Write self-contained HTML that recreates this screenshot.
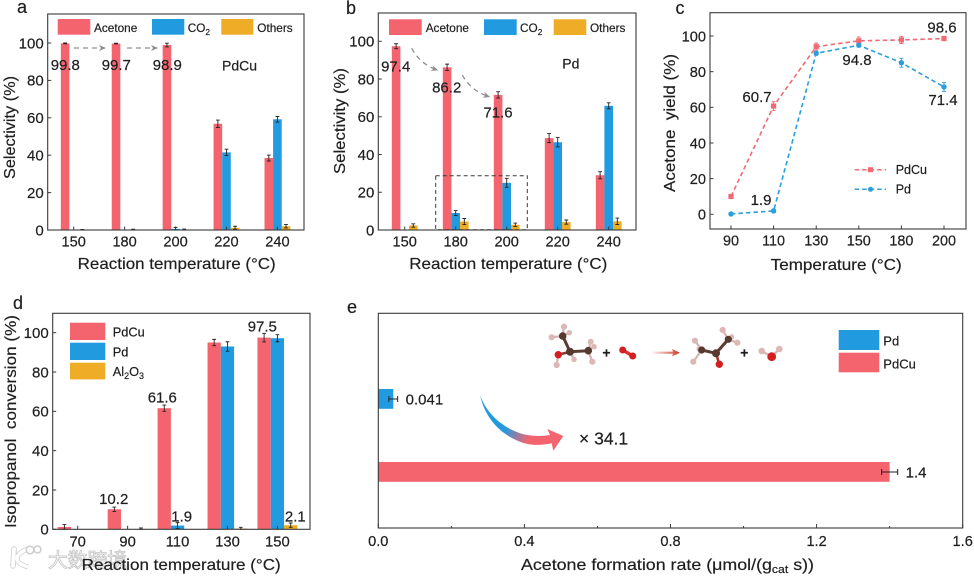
<!DOCTYPE html>
<html lang="en">
<head>
<meta charset="utf-8">
<title>Catalyst performance of PdCu and Pd</title>
<style>
html,body{margin:0;padding:0;background:#fff;}
body{width:974px;height:576px;overflow:hidden;}
svg{display:block;font-family:"Liberation Sans","Noto Sans CJK SC",sans-serif;fill:#1f1f1f;filter:blur(0.35px);}
text:not(.wm){stroke:#1f1f1f;stroke-width:0.2px;}
</style>
</head>
<body>
<svg id="figure" width="974" height="576" viewBox="0 0 974 576" xmlns="http://www.w3.org/2000/svg">
<defs>
<marker id="grayHead" viewBox="0 0 8 8" refX="6" refY="4" markerWidth="8" markerHeight="8" orient="auto" markerUnits="userSpaceOnUse"><path d="M0 1 L7 4 L0 7 L2 4 Z" fill="#8f8f8f"/></marker>
<linearGradient id="curveGrad" gradientUnits="userSpaceOnUse" x1="505" y1="428" x2="528" y2="440"><stop offset="0" stop-color="#229ae0"/><stop offset="1" stop-color="#f4646f"/></linearGradient>
<linearGradient id="rxnGrad" x1="0" x2="1" y1="0" y2="0"><stop offset="0" stop-color="#d9412f" stop-opacity="0.05"/><stop offset="1" stop-color="#d0341f"/></linearGradient>
</defs>

<rect width="974" height="576" fill="#fff"/>

<!-- Watermark -->
<g>
<path d="M14 549 L13 566" fill="none" stroke="#cfcfcf" stroke-width="5.5" stroke-linecap="round"/>
<path d="M28 549 Q17 553 17 559 Q18 564 28 567" fill="none" stroke="#cfcfcf" stroke-width="5"/>
<path d="M14 549 L13 566" fill="none" stroke="#fff" stroke-width="3.8" stroke-linecap="round"/>
<path d="M28 549 Q17 553 17 559 Q18 564 28 567" fill="none" stroke="#fff" stroke-width="3.4"/>
<circle cx="30" cy="550" r="3.8" fill="#fff" stroke="#cfcfcf" stroke-width="1.6"/>
<circle cx="37.5" cy="549.5" r="3.4" fill="#fff" stroke="#cfcfcf" stroke-width="1.6"/>
<text class="wm" x="48" y="567" font-size="20" fill="#fff" stroke="#c4c4c4" stroke-width="0.8" font-family="'Noto Sans CJK SC',sans-serif" textLength="79">大数跨境</text>
</g>

<g id="panelA"></g>
<g id="panelB"></g>
<g id="panelC"></g>
<g id="panelD"></g>
<g id="panelE"></g>

<!-- Panel letters -->
<g font-size="18">
<text x="17" y="13">a</text>
<text x="346" y="14">b</text>
<text x="675.5" y="14">c</text>
<text x="13" y="309">d</text>
<text x="347" y="313">e</text>
</g>

<!-- Axis titles -->
<g font-size="16">
<text x="77.7" y="269" textLength="198" lengthAdjust="spacingAndGlyphs">Reaction temperature (°C)</text>
<text x="409.3" y="269" textLength="198" lengthAdjust="spacingAndGlyphs">Reaction temperature (°C)</text>
<text x="770.7" y="270" textLength="131" lengthAdjust="spacingAndGlyphs">Temperature (°C)</text>
<text x="81.7" y="570" textLength="199" lengthAdjust="spacingAndGlyphs">Reaction temperature (°C)</text>
<text x="521" y="570" textLength="293" lengthAdjust="spacingAndGlyphs">Acetone formation rate (μmol/(g<tspan font-size="11" dy="3">cat</tspan><tspan dy="-3"> s))</tspan></text>
<text transform="translate(15,179) rotate(-90)" textLength="103" lengthAdjust="spacingAndGlyphs">Selectivity (%)</text>
<text transform="translate(345,174) rotate(-90)" textLength="106" lengthAdjust="spacingAndGlyphs">Selectivity (%)</text>
<text transform="translate(675,192) rotate(-90)" textLength="138" lengthAdjust="spacingAndGlyphs" xml:space="preserve">Acetone  yield (%)</text>
<text transform="translate(16,528) rotate(-90)" textLength="213" lengthAdjust="spacingAndGlyphs" xml:space="preserve">Isopropanol  conversion (%)</text>
</g>

<!-- Panel annotations -->
<text x="222" y="70.5" font-size="14">PdCu</text>
<text x="562.3" y="68.5" font-size="14">Pd</text>
<g stroke="#8f8f8f" stroke-width="1.3" fill="none" stroke-dasharray="5 4">
<path d="M74 48 L105 48" marker-end="url(#grayHead)"/>
<path d="M127 48 L157 48" marker-end="url(#grayHead)"/>
<path d="M411.7 48.3 Q420 64 437.3 70" marker-end="url(#grayHead)"/>
<path d="M462.3 75 Q471 91 489.3 96.7" marker-end="url(#grayHead)"/>
</g>
<rect x="435.7" y="175.7" width="91.6" height="54" fill="none" stroke="#3a3a3a" stroke-width="1" stroke-dasharray="4 3"/>

<!-- Panel e decorations -->
<path d="M480 395 C486 412 500 426 520 433.3 C530 436.5 541 436.5 550 435 L547.3 429 L563.3 436 L553.3 450.7 L551.7 443.3 C540 446 528 445 520 441.7 C500 434 485 418 480 395 Z" fill="url(#curveGrad)"/>
<text x="579" y="444.5" font-size="17.5">× 34.1</text>
<g>
<path fill="none" stroke="#d4b4b2" stroke-width="2.2" d="M562.7 336 L564 326.7 M562.7 336 L551.7 337.3 M562.7 336 L569.3 332.7 M588.3 350.7 L590.7 341.7 M588.3 350.7 L594 346.7 M588.3 350.7 L592.3 361.7 M570 351.7 L574 359.3 M558.3 354.7 L556.7 365"/>
<path fill="none" stroke="#5a3c33" stroke-width="3" d="M562.7 336 L570 351.7 L588.3 350.7"/>
<path fill="none" stroke="#8a3a30" stroke-width="2.6" d="M570 351.7 L558.3 354.7"/>
<g fill="#dbb7b5"><circle cx="564" cy="326.7" r="3.1"/><circle cx="551.7" cy="337.3" r="3.1"/><circle cx="569.3" cy="332.7" r="2.7"/><circle cx="590.7" cy="341.7" r="3"/><circle cx="594" cy="346.7" r="2.8"/><circle cx="592.3" cy="361.7" r="3.1"/><circle cx="574" cy="359.3" r="2.8"/><circle cx="556.7" cy="365" r="3.1"/></g>
<g fill="#56392f"><circle cx="570" cy="351.7" r="4"/><circle cx="562.7" cy="336" r="3.8"/><circle cx="588.3" cy="350.7" r="3.8"/></g>
<circle cx="558.3" cy="354.7" r="3.7" fill="#d31f1f"/>
</g>
<text x="606.5" y="357.5" font-size="14" font-weight="bold" text-anchor="middle">+</text>
<g><path d="M622.7 350 L632.7 356" stroke="#d33" stroke-width="3.5"/><circle cx="622.7" cy="350" r="3.5" fill="#d31f1f"/><circle cx="632.7" cy="356" r="3.5" fill="#d31f1f"/></g>
<path d="M651.7 351.6 L673 351.6 L672 349 L680 352.7 L672 356.4 L673 353.8 L651.7 353.8 Z" fill="url(#rxnGrad)"/>
<g>
<path fill="none" stroke="#d4b4b2" stroke-width="2.2" d="M701.7 350 L695 340.7 M701.7 350 L693.3 361.7 M728.3 339.3 L722.7 330 M728.3 339.3 L737.3 342.7"/>
<path fill="none" stroke="#5a3c33" stroke-width="3" d="M701.7 350 L716 353.3 L728.3 339.3"/>
<path fill="none" stroke="#a8352c" stroke-width="2.6" d="M716 353.3 L719.3 364.3"/>
<g fill="#dbb7b5"><circle cx="695" cy="340.7" r="3.1"/><circle cx="693.3" cy="361.7" r="3.1"/><circle cx="722.7" cy="330" r="3.1"/><circle cx="737.3" cy="342.7" r="3.1"/><circle cx="731.7" cy="336.7" r="2.6"/><circle cx="699.5" cy="349" r="3"/></g>
<g fill="#56392f"><circle cx="701.7" cy="350" r="3.6"/><circle cx="716" cy="353.3" r="4"/><circle cx="728.3" cy="339.3" r="3.6"/></g>
<circle cx="719.3" cy="364.3" r="3.7" fill="#d31f1f"/>
</g>
<text x="744.3" y="357.5" font-size="14" font-weight="bold" text-anchor="middle">+</text>
<g><path d="M761.7 351 L771.7 356.7 L779.3 349" fill="none" stroke="#d4b4b2" stroke-width="2.2"/><circle cx="761.7" cy="351" r="3.3" fill="#dbb7b5"/><circle cx="779.3" cy="349" r="3.3" fill="#dbb7b5"/><circle cx="771.7" cy="356.7" r="4.4" fill="#d31f1f"/></g>

<script>
/* ---------- Panel a data ---------- */
var aCategories = ['150', '180', '200', '220', '240'];
var aAcetone = [99.8, 99.7, 98.9, 56.8, 38.5];
var aCO2 = [0, 0, 0.6, 41.5, 59.2];
var aOthers = [0.1, 0.2, 0.2, 1.2, 2.0];
var aAcetoneErr = [0.2, 0.2, 1.0, 2.0, 1.6];
var aCO2Err = [0, 0, 0.8, 1.7, 1.5];
var aOthersErr = [0.2, 0.2, 0.3, 0.8, 0.9];

/* ---------- Panel b data ---------- */
var bCategories = ['150', '180', '200', '220', '240'];
var bAcetone = [97.4, 86.2, 71.6, 48.7, 29.0];
var bCO2 = [0, 9.0, 25.0, 46.5, 65.8];
var bOthers = [2.4, 4.5, 2.8, 4.2, 4.6];
var bAcetoneErr = [1.3, 1.7, 1.7, 2.4, 1.9];
var bCO2Err = [0, 1.3, 2.4, 2.5, 1.6];
var bOthersErr = [0.9, 1.6, 0.9, 1.1, 1.7];

/* ---------- Panel c data ---------- */
var cCategories = ['90', '110', '130', '150', '180', '200'];
var cPdCu = [10, 60.7, 94, 97.3, 97.8, 98.6];
var cPd = [0.2, 1.9, 90.3, 94.8, 85, 71.4];
var cPdCuErr = [1, 2.5, 2, 2.2, 2, 1.2];
var cPdErr = [0.5, 1, 1, 1, 2.5, 2.5];

/* ---------- Panel d data ---------- */
var dCategories = ['70', '90', '110', '130', '150'];
var dPdCu = [1.2, 10.2, 61.6, 95, 97.5];
var dPd = [0, 0, 1.9, 93, 97.2];
var dAl2O3 = [0, 0.2, 0, 0.4, 2.1];
var dPdCuErr = [1.2, 1.1, 1.6, 1.6, 2.2];
var dPdErr = [0, 0, 1.5, 2.4, 1.8];
var dAl2O3Err = [0, 0.5, 0, 0.6, 1.1];

/* ---------- Panel e data ---------- */
var eCategories = ['Pd', 'PdCu'];
var eRates = [0.041, 1.4];
var eRateErr = [0.012, 0.022];
var ePrinted = ['0.041', '1.4'];
var eTicks = [0, 0.4, 0.8, 1.2, 1.6];
var eMinorTicks = [0.2, 0.6, 1.0, 1.4];

/* ---------- Shared tick labels ---------- */
var percentTicks = [0, 20, 40, 60, 80, 100];

var PINK = '#f4646f', BLUE = '#229ae0', ORANGE = '#efac26', INK = '#3a3a3a';
var NS = 'http://www.w3.org/2000/svg';

function make(parent, tag, attrs, content) {
  var node = document.createElementNS(NS, tag);
  for (var k in attrs) { node.setAttribute(k, attrs[k]); }
  if (content !== undefined) { node.textContent = content; }
  parent.appendChild(node);
  return node;
}
function linear(d0, d1, r0, r1) {
  return function (v) { return r0 + (v - d0) / (d1 - d0) * (r1 - r0); };
}
function frame(g, box) {
  var f = make(g, 'rect', { x: box.left, y: box.top, width: box.right - box.left, height: box.bottom - box.top, fill: 'none', stroke: INK, 'stroke-width': 1.1 });
  
  
}
function yAxis(g, box, y, ticks, fontSize) {
  ticks.forEach(function (t) {
    var line = make(g, 'line', { x1: box.left, x2: box.left + 3.5, y1: y(t), y2: y(t), stroke: INK, 'stroke-width': 1 });
    
    
    var label = make(g, 'text', { x: box.left - 4, y: y(t) + 5.3, 'text-anchor': 'end', 'font-size': fontSize }, String(t));
    
    
  });
}
function xAxis(g, box, x, cats, baseline, fontSize) {
  cats.forEach(function (c, i) {
    var line = make(g, 'line', { x1: x(i), x2: x(i), y1: box.bottom, y2: box.bottom - 3.5, stroke: INK, 'stroke-width': 1 });
    
    
    var label = make(g, 'text', { x: x(i), y: baseline, 'text-anchor': 'middle', 'font-size': fontSize }, c);
    
    
  });
}
function errorBar(g, cx, y, v, err, capW) {
  if (!err) { return; }
  var top = y(v + err), bot = y(Math.max(0, v - err));
  var e = make(g, 'path', {
    d: 'M' + (cx - capW) + ' ' + top + 'H' + (cx + capW) + 'M' + cx + ' ' + top + 'V' + bot + 'M' + (cx - capW) + ' ' + bot + 'H' + (cx + capW),
    stroke: '#222', 'stroke-width': 0.9, fill: 'none'
  });
  
  
}
function bars(g, x, y, values, errors, color, slot, barW) {
  values.forEach(function (v, i) {
    var cx = x(i) + slot * barW;
    var r = make(g, 'rect', { x: cx - barW / 2, y: y(v), width: barW, height: Math.max(0, y(0) - y(v)), fill: color });
    
    
    errorBar(g, cx, y, v, errors[i], 1.9);
  });
}
function valueLabel(g, px, py, value) {
  var t = make(g, 'text', { x: px, y: py, 'text-anchor': 'middle', 'font-size': 15 }, value.toFixed(1));
  
  
}
function swatch(g, x0, y0, w, h, color, name) {
  var s = make(g, 'rect', { x: x0, y: y0, width: w, height: h, fill: color });
  
  
}
function legendText(g, x0, y0, size, str, sub, tail) {
  var t = make(g, 'text', { x: x0, y: y0, 'font-size': size }, str);
  
  
  if (sub) {
    make(t, 'tspan', { dy: 3, 'font-size': size * 0.7 }, sub);
    if (tail) {
      make(t, 'tspan', { dy: -3 }, tail.t);
      make(t, 'tspan', { dy: 3, 'font-size': size * 0.7 }, tail.s);
    }
  }
}

/* ---------- Panel a ---------- */
(function () {
  var g = document.getElementById('panelA');
  var box = { left: 47.7, right: 304, top: 14, bottom: 230 };
  var x = linear(0, 4, 73.7, 277.4), y = linear(0, 100, 230, 43);
  var barW = 8.6;
  bars(g, x, y, aAcetone, aAcetoneErr, PINK, -1, barW);
  bars(g, x, y, aCO2, aCO2Err, BLUE, 0, barW);
  bars(g, x, y, aOthers, aOthersErr, ORANGE, 1, barW);
  frame(g, box);
  yAxis(g, box, y, percentTicks, 15);
  xAxis(g, box, x, aCategories, 246.7, 14.6);
  valueLabel(g, 65.3, 70, aAcetone[0]);
  valueLabel(g, 116.3, 70, aAcetone[1]);
  valueLabel(g, 167.3, 70, aAcetone[2]);
  swatch(g, 57.7, 19, 32.6, 15.7, PINK, 'legend-swatch-acetone');
  legendText(g, 94, 31.8, 11.8, 'Acetone');
  swatch(g, 152, 19, 32.3, 15.7, BLUE, 'legend-swatch-co2');
  legendText(g, 187.7, 31.8, 11.8, 'CO', '2');
  swatch(g, 221.3, 19, 32, 15.7, ORANGE, 'legend-swatch-others');
  legendText(g, 257.3, 31.8, 11.8, 'Others');
})();

/* ---------- Panel b ---------- */
(function () {
  var g = document.getElementById('panelB');
  var box = { left: 378.3, right: 636, top: 13, bottom: 230 };
  var x = linear(0, 4, 404.7, 608.7), y = linear(0, 100, 230, 41.3);
  var barW = 8.6;
  bars(g, x, y, bAcetone, bAcetoneErr, PINK, -1, barW);
  bars(g, x, y, bCO2, bCO2Err, BLUE, 0, barW);
  bars(g, x, y, bOthers, bOthersErr, ORANGE, 1, barW);
  frame(g, box);
  yAxis(g, box, y, percentTicks, 15);
  xAxis(g, box, x, bCategories, 246.7, 14.6);
  valueLabel(g, 395.7, 71.7, bAcetone[0]);
  valueLabel(g, 446.7, 92.7, bAcetone[1]);
  valueLabel(g, 498, 117.3, bAcetone[2]);
  swatch(g, 389, 19.3, 32.7, 15.7, PINK, 'legend-swatch-acetone');
  legendText(g, 425.7, 32, 11.8, 'Acetone');
  swatch(g, 484, 19.3, 32.7, 15.7, BLUE, 'legend-swatch-co2');
  legendText(g, 520, 32, 11.8, 'CO', '2');
  swatch(g, 553.7, 19.3, 32.6, 15.7, ORANGE, 'legend-swatch-others');
  legendText(g, 590, 32, 11.8, 'Others');
})();

/* ---------- Panel c ---------- */
(function () {
  var g = document.getElementById('panelC');
  var box = { left: 710, right: 966, top: 12.7, bottom: 229 };
  var x = linear(0, 5, 731, 944), y = linear(0, 100, 214.3, 36);
  var LINEPINK = '#ee6b75', LINEBLUE = '#2a9fdb';
  function series(values, errors, color, square, name) {
    var pts = values.map(function (v, i) { return x(i) + ',' + y(v); }).join(' ');
    var line = make(g, 'polyline', { points: pts, fill: 'none', stroke: color, 'stroke-width': 1.6, 'stroke-dasharray': '4.5 3' });
    
    
    values.forEach(function (v, i) {
      var e = make(g, 'path', { d: 'M' + (x(i) - 2) + ' ' + y(v + errors[i]) + 'H' + (x(i) + 2) + 'M' + x(i) + ' ' + y(v + errors[i]) + 'V' + y(v - errors[i]) + 'M' + (x(i) - 2) + ' ' + y(v - errors[i]) + 'H' + (x(i) + 2), stroke: color, 'stroke-width': 0.9, fill: 'none' });
      
      
      var m = square
        ? make(g, 'rect', { x: x(i) - 2.6, y: y(v) - 2.6, width: 5.2, height: 5.2, fill: color })
        : make(g, 'circle', { cx: x(i), cy: y(v), r: 2.7, fill: color });
      
      
    });
  }
  frame(g, box);
  series(cPdCu, cPdCuErr, LINEPINK, true, 'line-pdcu');
  series(cPd, cPdErr, LINEBLUE, false, 'line-pd');
  yAxis(g, box, y, percentTicks, 14.6);
  xAxis(g, box, x, cCategories, 245.7, 14.4);
  valueLabel(g, 942, 32.7, cPdCu[5]);
  valueLabel(g, 757, 102, cPdCu[1]);
  valueLabel(g, 761, 205, cPd[1]);
  valueLabel(g, 857, 65, cPd[3]);
  valueLabel(g, 943, 105, cPd[5]);
  var l1 = make(g, 'line', { x1: 854.7, x2: 886, y1: 169.7, y2: 169.7, stroke: LINEPINK, 'stroke-width': 1.5, 'stroke-dasharray': '4.5 3' });
  
  
  swatch(g, 868, 167.2, 5, 5, LINEPINK, 'legend-marker-pdcu');
  legendText(g, 895.7, 174, 12.5, 'PdCu');
  var l2 = make(g, 'line', { x1: 854.7, x2: 886, y1: 189.3, y2: 189.3, stroke: LINEBLUE, 'stroke-width': 1.5, 'stroke-dasharray': '4.5 3' });
  
  
  var l2m = make(g, 'circle', { cx: 870.5, cy: 189.3, r: 2.5, fill: LINEBLUE });
  
  
  legendText(g, 895.7, 193.7, 12.5, 'Pd');
})();

/* ---------- Panel d ---------- */
(function () {
  var g = document.getElementById('panelD');
  var box = { left: 52.7, right: 310, top: 313.3, bottom: 529.3 };
  var x = linear(0, 4, 77.7, 277.4), y = linear(0, 100, 529.3, 332.7);
  var barW = 13.3;
  bars(g, x, y, dPdCu, dPdCuErr, PINK, -1, barW);
  bars(g, x, y, dPd, dPdErr, BLUE, 0, barW);
  bars(g, x, y, dAl2O3, dAl2O3Err, ORANGE, 1, barW);
  frame(g, box);
  yAxis(g, box, y, percentTicks, 15);
  xAxis(g, box, x, dCategories, 546.7, 14.8);
  valueLabel(g, 113.7, 504, dPdCu[1]);
  valueLabel(g, 162.3, 402.7, dPdCu[2]);
  valueLabel(g, 181.7, 521.7, dPd[2]);
  valueLabel(g, 262.3, 331.3, dPdCu[4]);
  valueLabel(g, 295.3, 521.7, dAl2O3[4]);
  swatch(g, 70, 322.7, 35.3, 17.3, PINK, 'legend-swatch-pdcu');
  legendText(g, 112.7, 336.7, 12.8, 'PdCu');
  swatch(g, 70, 342.7, 35.3, 17.3, BLUE, 'legend-swatch-pd');
  legendText(g, 112.7, 356.7, 12.8, 'Pd');
  swatch(g, 70, 362.7, 35.3, 16.7, ORANGE, 'legend-swatch-al2o3');
  legendText(g, 112.7, 376, 12.8, 'Al', '2', { t: 'O', s: '3' });
})();

/* ---------- Panel e ---------- */
(function () {
  var g = document.getElementById('panelE');
  var box = { left: 378.3, right: 962.7, top: 313.3, bottom: 528 };
  var x = linear(0, 1.6, 378.3, 962.7);
  var bandCenter = [399, 472];
  var colors = [BLUE, PINK];
  eRates.forEach(function (v, i) {
    var b = make(g, 'rect', { x: x(0), y: bandCenter[i] - 10, width: x(v) - x(0), height: 19.8, fill: colors[i] });
    
    
    var e = make(g, 'path', {
      d: 'M' + x(v - eRateErr[i]) + ' ' + (bandCenter[i] - 3) + 'v6M' + x(v - eRateErr[i]) + ' ' + bandCenter[i] + 'H' + x(v + eRateErr[i]) + 'M' + x(v + eRateErr[i]) + ' ' + (bandCenter[i] - 3) + 'v6',
      stroke: '#222', 'stroke-width': 1, fill: 'none'
    });
    
    
    var t = make(g, 'text', { x: x(v + eRateErr[i]) + 8, y: bandCenter[i] + 5.3, 'font-size': 15 }, ePrinted[i]);
    
    
  });
  frame(g, box);
  eTicks.forEach(function (t) {
    var line = make(g, 'line', { x1: x(t), x2: x(t), y1: box.bottom, y2: box.bottom - 4, stroke: INK, 'stroke-width': 1 });
    
    
    var label = make(g, 'text', { x: x(t), y: 546, 'text-anchor': 'middle', 'font-size': 14.6 }, t.toFixed(1));
    
    
  });
  eMinorTicks.forEach(function (t) {
    var line = make(g, 'line', { x1: x(t), x2: x(t), y1: box.bottom, y2: box.bottom - 2, stroke: INK, 'stroke-width': 1 });
    
    
  });
  swatch(g, 838.7, 330, 40.6, 20, BLUE, 'legend-swatch-pd');
  legendText(g, 883.3, 345.3, 13, 'Pd');
  swatch(g, 838.7, 352.7, 40.6, 19.6, PINK, 'legend-swatch-pdcu');
  legendText(g, 883.3, 368.3, 13, 'PdCu');
})();
</script>
</svg>
</body>
</html>
